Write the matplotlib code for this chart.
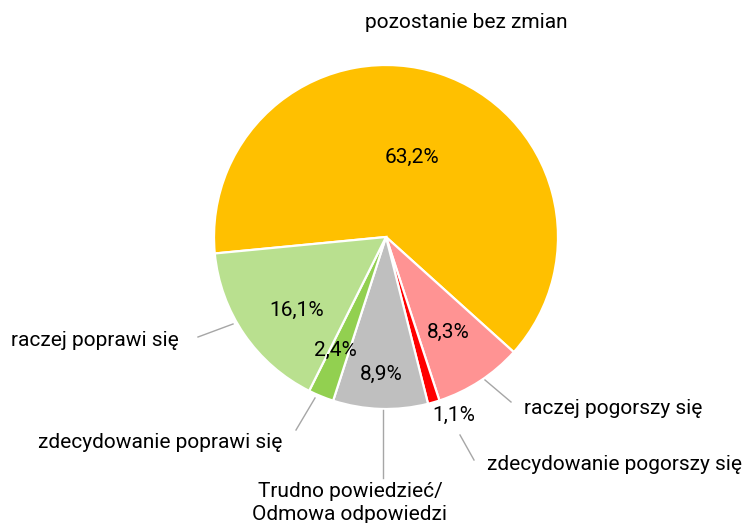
import matplotlib.pyplot as plt
import numpy as np

# ===============================================================
# Data
# ===============================================================
categories = [
    "pozostanie bez zmian",
    "raczej pogorszy się",
    "zdecydowanie pogorszy się",
    "Trudno powiedzieć/\nOdmowa odpowiedzi",
    "zdecydowanie poprawi się",
    "raczej poprawi się",
]
values = [63.2, 8.3, 1.1, 8.9, 2.4, 16.1]
colors = ["#FFC000", "#FF9393", "#FF0000", "#BFBFBF", "#92D050", "#B9E08F"]

# percent label radius (fraction of pie radius) per slice
pct_radius = [0.49, 0.66, 1.11, 0.80, 0.72, 0.67]
pct_angle_shift = [0, 0, 4.7, 0, -2, 5]

# ===============================================================
# Layout (pixel space, y up)
# ===============================================================
W, H = 749, 523
cx, cy, R = 386, H - 237, 172
start = 185.5

# category label positions (x, y from top, ha)
label_pos = [
    (466, 22, "center"),
    (524, 408, "left"),
    (487, 465, "left"),
    (350, 503, "center"),
    (160, 443, "center"),
    (95, 340, "center"),
]
# leader lines (x1, y1, x2, y2 from top) or None
leaders = [
    None,
    (485, 380, 511, 402),
    (460, 435, 474, 460),
    (383, 410, 383, 478),
    (315, 398, 296, 430),
    (233, 324, 198, 337),
]

fig = plt.figure(figsize=(W / 100, H / 100), dpi=100)
ax = fig.add_axes([0, 0, 1, 1])

wedges, _ = ax.pie(
    values,
    colors=colors,
    startangle=start,
    counterclock=False,
    center=(cx, cy),
    radius=R,
    wedgeprops=dict(edgecolor="white", linewidth=1.6),
    frame=True,
)
ax.set_xlim(0, W)
ax.set_ylim(0, H)
ax.set_aspect("equal")
ax.axis("off")

font = "Roboto"
fs = 15
for w, v, rf, sh in zip(wedges, values, pct_radius, pct_angle_shift):
    mid = np.deg2rad((w.theta1 + w.theta2) / 2 + sh)
    x = cx + rf * R * np.cos(mid)
    y = cy + rf * R * np.sin(mid)
    ax.text(x, y, f"{v:.1f}%".replace(".", ","), ha="center", va="center",
            fontsize=fs, family=font, color="black")

for name, (x, y, ha), ld in zip(categories, label_pos, leaders):
    ax.text(x, H - y, name, ha=ha, va="center", fontsize=fs, family=font,
            color="black", linespacing=1.3)
    if ld is not None:
        x1, y1, x2, y2 = ld
        ax.plot([x1, x2], [H - y1, H - y2], color="#A6A6A6", lw=1.0)

fig.savefig("out.png", dpi=100)
plt.close()
